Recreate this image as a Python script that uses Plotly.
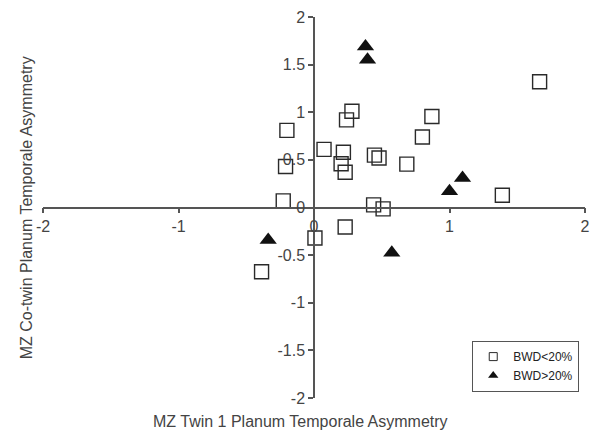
import plotly.graph_objects as go

# BWD < 20% (open squares)
low_x = [1.665, 0.28, 0.24, -0.20, 0.87, 0.80, 0.074, 0.217, 0.20, 0.23, 0.446, 0.48,
         0.685, -0.227, 1.39, 0.44, 0.51, -0.21, 0.007, 0.23, -0.387]
low_y = [1.32, 1.01, 0.92, 0.81, 0.955, 0.74, 0.61, 0.58, 0.46, 0.37, 0.55, 0.52,
         0.455, 0.07, 0.128, 0.028, -0.014, 0.43, -0.32, -0.205, -0.674]

# BWD > 20% (filled triangles)
high_x = [0.38, 0.395, 1.096, 1.0, -0.338, 0.574]
high_y = [1.69, 1.55, 0.31, 0.17, -0.34, -0.476]

ticks = [-2, -1.5, -1, -0.5, 0, 0.5, 1, 1.5, 2]
xticks = [-2, -1, 0, 1, 2]

ink = "#444444"
font_name = "Liberation Sans, Arial"

fig = go.Figure()
fig.add_trace(go.Scatter(x=low_x, y=low_y, mode="markers", showlegend=False,
                         marker=dict(symbol="square-open", size=14, color="#2a2a2a",
                                     line=dict(width=1.4))))
fig.add_trace(go.Scatter(x=high_x, y=high_y, mode="markers", showlegend=False,
                         marker=dict(symbol="triangle-up", size=15, color="#111111")))
# legend-only entries with small symbols
fig.add_trace(go.Scatter(x=[None], y=[None], mode="markers", name="BWD<20%",
                         marker=dict(symbol="square-open", size=8, color="#2a2a2a",
                                     line=dict(width=1))))
fig.add_trace(go.Scatter(x=[None], y=[None], mode="markers", name="BWD>20%",
                         marker=dict(symbol="triangle-up", size=9, color="#111111")))

axis_common = dict(showgrid=False, zeroline=False, showline=True, linecolor="#555555",
                   linewidth=1.5, ticks="outside", ticklen=5, tickcolor="#555555",
                   tickwidth=1.5, range=[-2, 2], anchor="free", position=0.5,
                   automargin=False, ticklabeloverflow="allow",
                   tickfont=dict(family=font_name, size=16, color=ink))

# page body has an 8px margin, so the figure is shrunk by that much
fig.update_layout(
    width=593, height=434,
    margin=dict(l=35, r=16, t=9, b=44, autoexpand=False),
    plot_bgcolor="white", paper_bgcolor="white",
    xaxis=dict(tickvals=xticks, ticktext=[str(t) for t in xticks], **axis_common),
    yaxis=dict(tickvals=ticks, ticktext=[str(t) for t in ticks], **axis_common),
    legend=dict(x=0.989, y=0.016, xanchor="right", yanchor="bottom",
                bordercolor="#555555", borderwidth=1.2, bgcolor="white",
                font=dict(family=font_name, size=12, color="#222222"),
                tracegroupgap=0, itemwidth=30),
    annotations=[
        dict(text="MZ Twin 1 Planum Temporale Asymmetry", xref="paper", yref="paper",
             x=0.475, y=-0.035, xanchor="center", yanchor="top", showarrow=False,
             font=dict(family=font_name, size=16, color=ink)),
        dict(text="MZ Co-twin Planum Temporale Asymmetry", xref="paper", yref="paper",
             x=-0.03, y=0.5, xanchor="center", yanchor="middle", textangle=-90,
             showarrow=False,
             font=dict(family=font_name, size=16, color=ink)),
    ],
)

fig.write_html("out.html")
